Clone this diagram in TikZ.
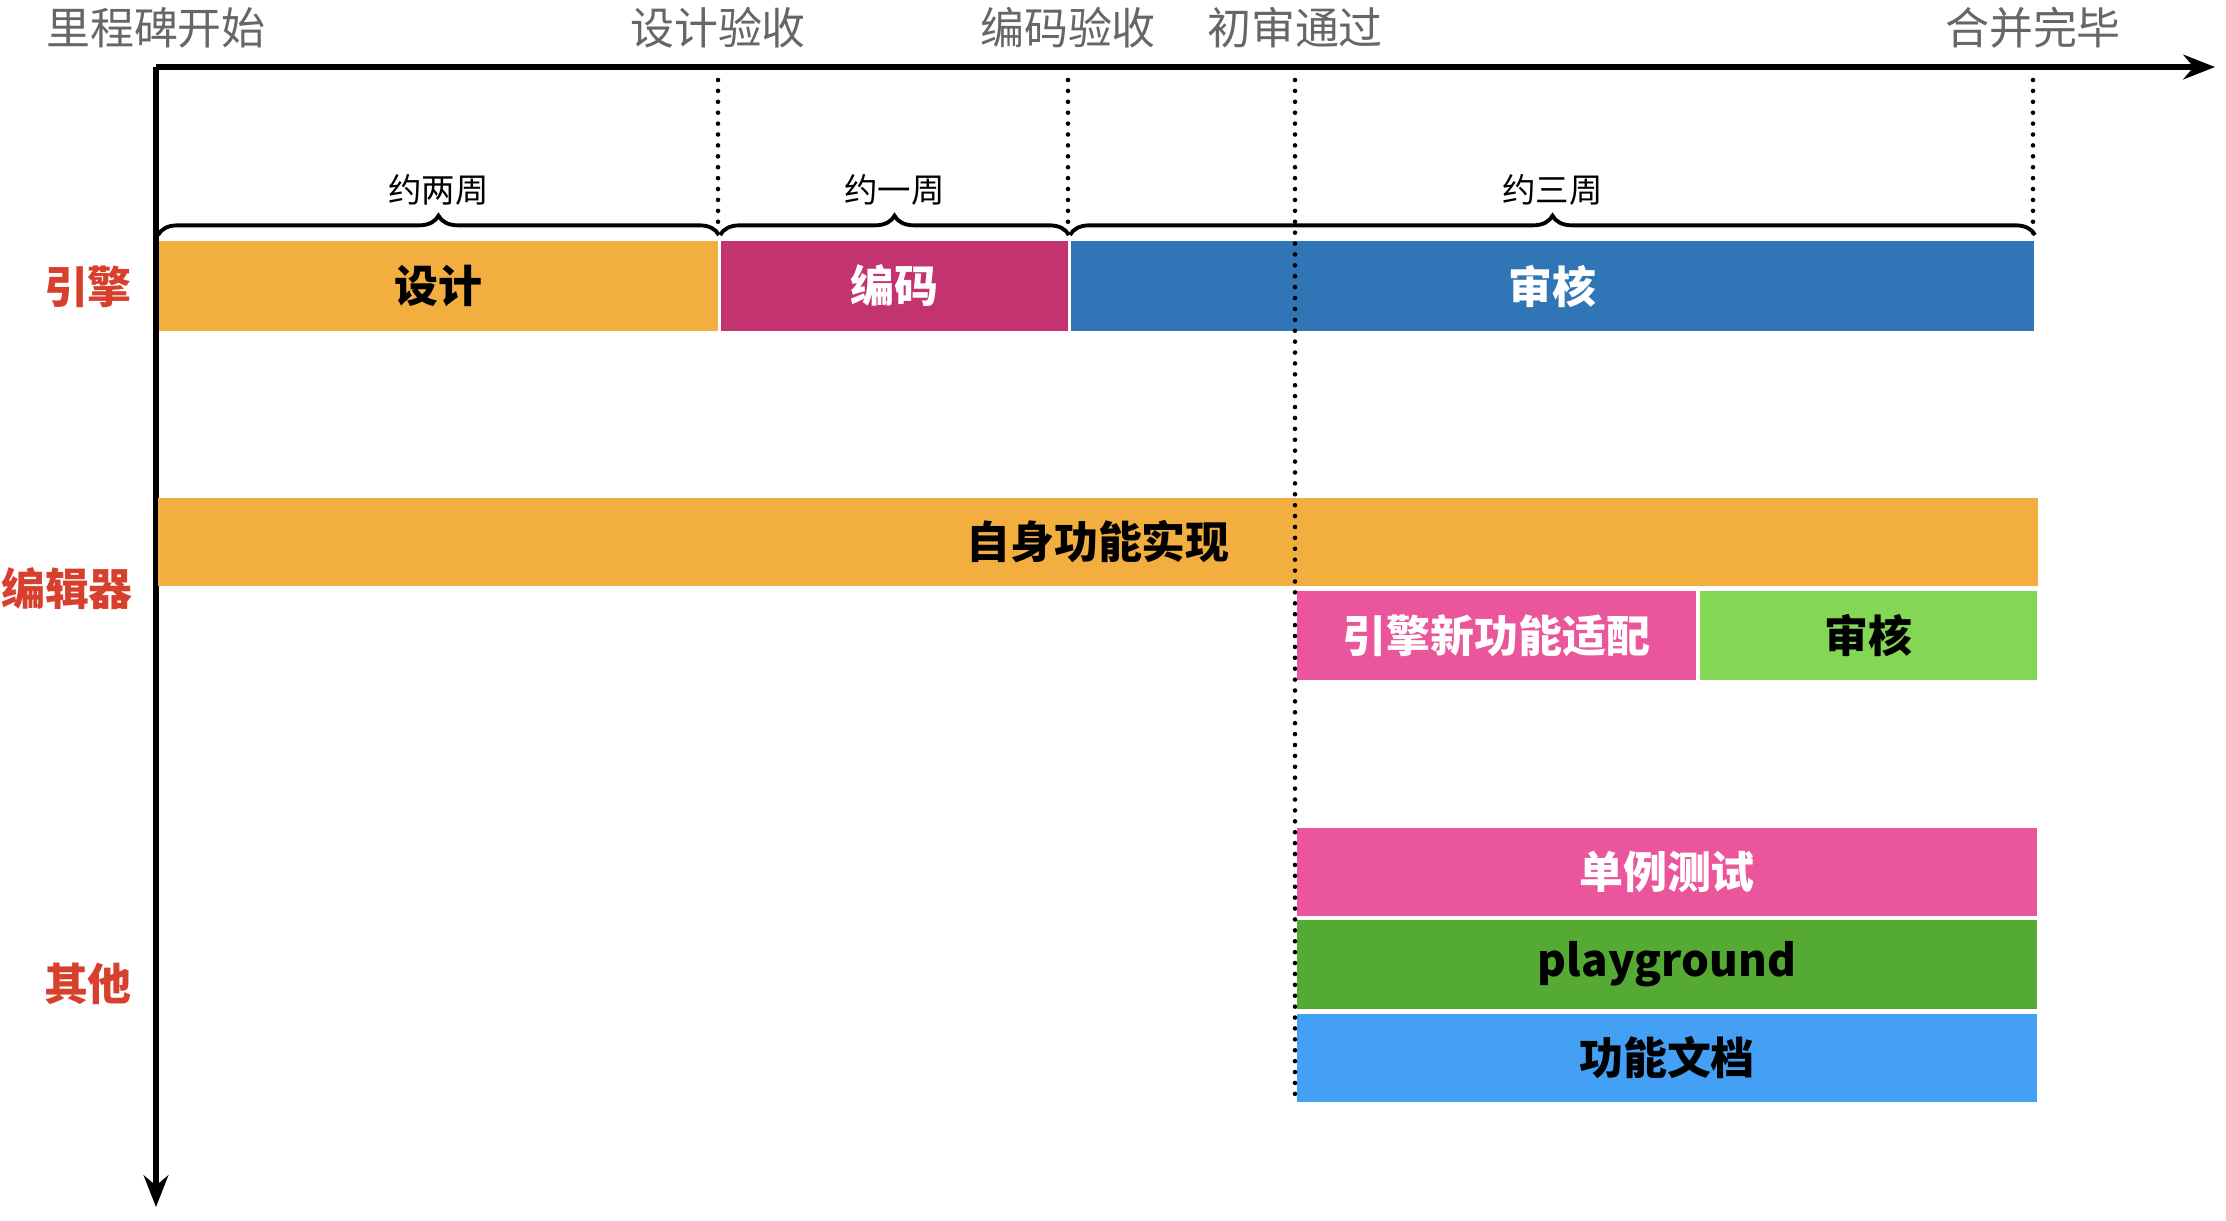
\documentclass[tikz,border=0pt]{standalone}
\usepackage{fontspec}
\newfontfamily\cjk{Noto Sans CJK SC}
\usetikzlibrary{arrows.meta,decorations.pathreplacing}
\definecolor{milegray}{HTML}{666666}
\definecolor{lanered}{HTML}{D8402E}
\definecolor{cOrange}{HTML}{F2AF40}
\definecolor{cMagenta}{HTML}{C3336F}
\definecolor{cBlue}{HTML}{3075B5}
\definecolor{cPink}{HTML}{EA559B}
\definecolor{cLime}{HTML}{84D655}
\definecolor{cGreen}{HTML}{55AA33}
\definecolor{cSky}{HTML}{43A0F5}

\begin{document}
\begin{tikzpicture}[
  x=0.01cm, y=-0.01cm,
  >={Stealth[length=9pt, width=7pt]},
  font=\cjk,
  axis/.style={->, line width=1.5pt},
  mile/.style={text=milegray, font=\cjk\fontsize{12.5}{15}\selectfont},
  lane/.style={text=lanered, font=\cjk\bfseries\fontsize{12.5}{15}\selectfont},
  bar/.style={rectangle, inner sep=0pt, font=\cjk\bfseries\fontsize{12.5}{15}\selectfont},
  guide/.style={line width=1.3pt, line cap=round, dash pattern=on 0pt off 3.1pt},
  span/.style={decorate, decoration={brace, amplitude=5.5pt, aspect=0.5}, line width=1.1pt},
  spanlbl/.style={font=\cjk\fontsize{9.5}{11}\selectfont}
]
\useasboundingbox (0,0) rectangle (2226,1220);
% --- 坐标轴 ---
\coordinate (origin) at (156,67);
\coordinate (xend) at (2215,67);
\coordinate (yend) at (156,1207);
\draw[axis] (origin) -- (xend);
\draw[axis] (origin) -- (yend);
% --- 里程碑 ---
\node[mile] (m0) at (156,28)  {里程碑开始};
\node[mile] (m1) at (718,28)  {设计验收};
\node[mile] (m2) at (1068,28) {编码验收};
\node[mile] (m3) at (1295,28) {初审通过};
\node[mile] (m4) at (2033,28) {合并完毕};
% --- 泳道 ---
\node[lane] (engine) at (88,287)  {引擎};
\node[lane] (editor) at (67,589)  {编辑器};
\node[lane] (others) at (88,984)  {其他};
% --- 引擎 ---
\node[bar, fill=cOrange,  minimum width=5.59cm, minimum height=0.9cm] (design) at (438.5,286) {设计};
\node[bar, fill=cMagenta, minimum width=3.47cm, minimum height=0.9cm, text=white] (coding) at (894.5,286) {编码};
\node[bar, fill=cBlue,    minimum width=9.63cm, minimum height=0.9cm, text=white] (review) at (1552.5,286) {审核};
% --- 编辑器 ---
\node[bar, fill=cOrange, minimum width=18.78cm, minimum height=0.88cm] (selfimpl) at (1098,542) {自身功能实现};
\node[bar, fill=cPink, minimum width=3.99cm, minimum height=0.89cm, text=white] (adapt) at (1496.5,635.5) {引擎新功能适配};
\node[bar, fill=cLime, minimum width=3.37cm, minimum height=0.89cm] (review2) at (1868.5,635.5) {审核};
% --- 其他 ---
\node[bar, fill=cPink,  minimum width=7.4cm, minimum height=0.88cm, text=white] (unittest) at (1667,872) {单例测试};
\node[bar, fill=cGreen, minimum width=7.4cm, minimum height=0.89cm] (playground) at (1667,964.5) {playground};
\node[bar, fill=cSky,   minimum width=7.4cm, minimum height=0.88cm] (docs) at (1667,1058) {功能文档};
% --- 周期 ---
\draw[span] ([yshift=1.5pt]design.north west) -- ([yshift=1.5pt]design.north east)
  node[midway, above=4.5pt, spanlbl] {约两周};
\draw[span] ([yshift=1.5pt]coding.north west) -- ([yshift=1.5pt]coding.north east)
  node[midway, above=4.5pt, spanlbl] {约一周};
\draw[span] ([yshift=1.5pt]review.north west) -- ([yshift=1.5pt]review.north east)
  node[midway, above=4.5pt, spanlbl] {约三周};
% --- 虚线 ---
\coordinate (g1) at (718,80);
\coordinate (g2) at (1068,80);
\coordinate (g3) at (1295,80);
\coordinate (g4) at (2033,80);
\draw[guide] (g1) -- ([yshift=4pt]g1 |- design.north);
\draw[guide] (g2) -- ([yshift=4pt]g2 |- design.north);
\draw[guide] (g3) -- (g3 |- docs.south);
\draw[guide] (g4) -- ([yshift=2pt]g4 |- design.north);
\end{tikzpicture}
\end{document}
